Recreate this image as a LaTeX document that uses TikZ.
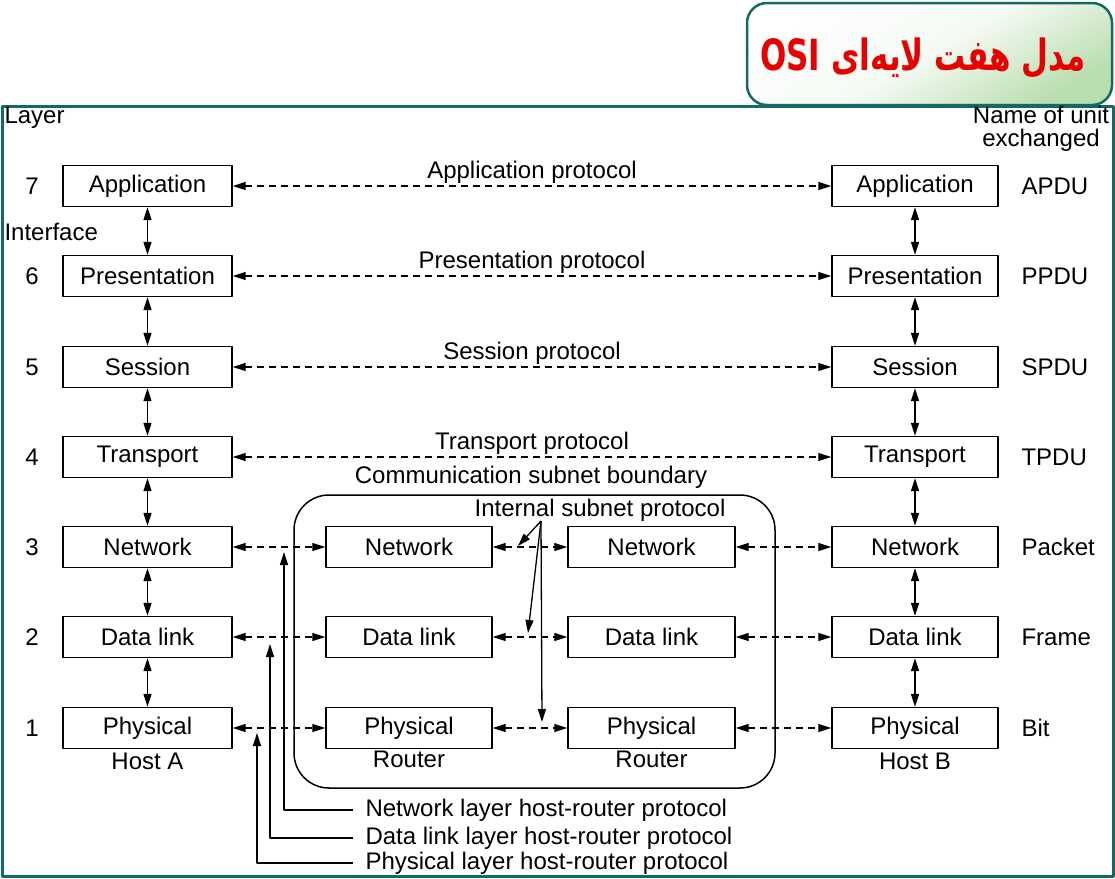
\documentclass[tikz,border=0pt]{standalone}
\usepackage{fontspec}
\setmainfont{Liberation Sans}
\newfontfamily\persianfont[Script=Arabic, FakeStretch=0.72]{DejaVu Sans}
\TeXXeTstate=1
\usetikzlibrary{arrows.meta}
\definecolor{frameteal}{RGB}{20,105,100}
\definecolor{titlegreen}{RGB}{185,222,175}
\definecolor{titlered}{RGB}{232,0,0}
\tikzset{
	layerbox/.style={draw, line width=1.4pt, minimum height=41pt, inner sep=0pt},
	peer/.style={<->, dash pattern=on 7pt off 5pt, line width=1.2pt},
	iface/.style={<->, line width=1.5pt},
	pointer/.style={->, line width=1.3pt},
}
\begin{document}
\begin{tikzpicture}[x=1pt, y=-1pt, font=\fontsize{24}{28}\selectfont, line join=round, >={Triangle[length=13pt,width=8pt]}]
	\useasboundingbox (0,0) rectangle (1115,878);
	\draw[frameteal, line width=3pt] (2,106) rectangle (1113,876);
	\shade[draw=frameteal, line width=2.5pt, rounded corners=20pt, top color=white, bottom color=titlegreen, middle color=white!85!titlegreen, shading angle=30] (747,3) rectangle (1112,105);
	\node[titlered] (title) at (923,58) {\persianfont\bfseries\fontsize{43}{48}\selectfont\beginR مدل هفت لایه‌ای \beginL OSI\endL\endR};
	\node[anchor=west] (layer) at (1,118) {Layer};
	\node[anchor=west] (iface) at (1,232) {Interface};
	\node[align=center, font=\fontsize{24}{23}\selectfont] (unitname) at (1041,129) {Name of unit\\exchanged};
	\foreach \n/\layer/\y/\unit in {7/Application/186/APDU, 6/Presentation/276/PPDU, 5/Session/367/SPDU, 4/Transport/457/TPDU, 3/Network/547/Packet, 2/Data link/637/Frame, 1/Physical/728/Bit}{
		\node[layerbox, minimum width=169pt] (a\n) at (147.5,\y) {\layer};
		\node[layerbox, minimum width=166pt] (b\n) at (915,\y) {\layer};
		\node (num\n) at (32,\y) {\n};
		\node[anchor=west] (unit\n) at (1018,\y) {\unit};
	}
	\foreach \n/\m in {7/6, 6/5, 5/4, 4/3, 3/2, 2/1}{
		\draw[iface] (a\n) -- (a\m);
		\draw[iface] (b\n) -- (b\m);
	}
	\draw[peer] (a7) -- node[above=-1pt] (approt) {Application protocol} (b7);
	\draw[peer] (a6) -- node[above=-1pt] (prprot) {Presentation protocol} (b6);
	\draw[peer] (a5) -- node[above=-1pt] (seprot) {Session protocol} (b5);
	\draw[peer] (a4) -- node[above=-1pt] (trprot) {Transport protocol} (b4);
	\node[draw, line width=1.5pt, rounded corners=35pt, minimum width=481pt, minimum height=293pt] (subnet) at (534.5,641.5) {};
	\node (boundary) at (531,477) {Communication subnet boundary};
	\foreach \n/\layer/\y in {3/Network/547, 2/Data link/637, 1/Physical/728}{
		\node[layerbox, minimum width=166pt] (ra\n) at (409,\y) {\layer};
		\node[layerbox, minimum width=167pt] (rb\n) at (651.5,\y) {\layer};
		\draw[peer] (a\n) -- (ra\n);
		\draw[peer] (ra\n) -- (rb\n);
		\draw[peer] (rb\n) -- (b\n);
	}
	\node[below] (hosta) at (a1.south) {Host A};
	\node[below] (hostb) at (b1.south) {Host B};
	\node[below=-2pt] (routera) at (ra1.south) {Router};
	\node[below=-2pt] (routerb) at (rb1.south) {Router};
	\node (internal) at (600,510) {Internal subnet protocol};
	\coordinate (intsrc) at (541,521);
	\coordinate (int3) at (518,546);
	\coordinate (int2) at (528,633);
	\coordinate (int1) at (542,722);
	\foreach \n in {3,2,1}
		\draw[pointer] (intsrc) -- (int\n);
	\node[anchor=west] (netproto) at (362,810) {Network layer host-router protocol};
	\node[anchor=west] (dlproto) at (362,838) {Data link layer host-router protocol};
	\node[anchor=west] (phproto) at (362,863) {Physical layer host-router protocol};
	\coordinate (nettip) at (284,552);
	\coordinate (dltip) at (270,644);
	\coordinate (phtip) at (257,733);
	\draw[pointer] ([xshift=-9pt]netproto.west) -| (nettip);
	\draw[pointer] ([xshift=-9pt]dlproto.west) -| (dltip);
	\draw[pointer] ([xshift=-9pt]phproto.west) -| (phtip);
\end{tikzpicture}
\end{document}
